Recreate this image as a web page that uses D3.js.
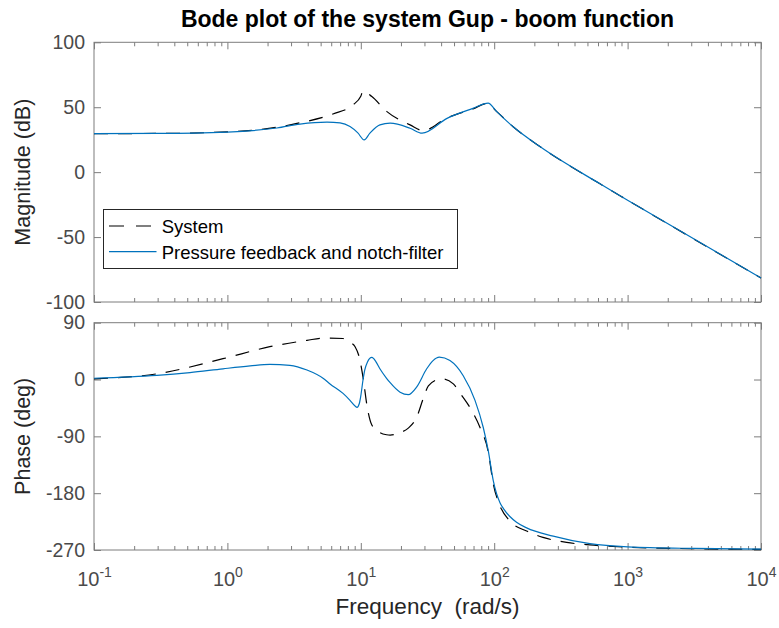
<!DOCTYPE html>
<html>
<head>
<meta charset="utf-8">
<script src="https://cdn.jsdelivr.net/npm/d3@7"></script>
<style>
  html, body { margin: 0; padding: 0; background: #fff; }
  svg { display: block; font-family: "Liberation Sans", Arial, Helvetica, sans-serif; }
</style>
</head>
<body>
<svg id="chart" width="779" height="628"></svg>
<script>
// Frequency response samples: [frequency (rad/s), value]
const systemMagnitude = [
  [0.1, 29.7], [0.3, 29.8], [1.0, 31.0], [2.35, 34.6], [3.5, 38.0], [6.19, 44.8],
  [8.75, 51.8], [10.0, 58.5], [10.4, 62.6], [12.1, 58.2], [15.7, 46.6], [23.4, 36.4],
  [29.3, 32.0], [44.3, 41.8], [69.3, 48.7], [88.3, 52.9], [104.5, 46.6], [138, 35.1],
  [220, 19.7], [621, -9.0], [1000, -21.6], [10000, -81.5]
];
const feedbackMagnitude = [
  [0.1, 29.7], [0.3, 29.8], [1.0, 30.9], [2.35, 34.0], [3.5, 37.0], [5.58, 38.5],
  [6.99, 37.9], [8.30, 35.1], [9.5, 30.2], [10.6, 24.8], [11.7, 30.0], [13.9, 36.4],
  [16.6, 37.7], [23.4, 33.8], [28.8, 30.0], [44.3, 41.4], [69.3, 49.1], [90.0, 53.2],
  [104.5, 46.6], [138, 35.1], [220, 19.7], [621, -9.0], [1000, -21.6], [10000, -81.5]
];
const systemPhase = [
  [0.1, 1], [0.296, 9], [0.927, 33], [2.08, 52], [3.95, 62], [5.21, 65.5], [7.36, 65],
  [8.30, 59], [9.06, 52], [9.75, 35], [10.4, 3], [11.2, -45], [12.1, -72], [13.9, -84],
  [15.6, -87.5], [16.6, -88], [19.7, -84], [22.7, -77], [26.2, -60], [29.4, -30],
  [32.1, -10], [38.8, 0.5], [41.3, 1], [49.4, -7], [57.0, -25], [67.8, -49], [78.3, -76],
  [90.3, -115], [98.4, -165], [110.5, -200], [131, -224], [175, -240], [232, -250],
  [349, -258], [522, -262], [1000, -265.5], [3162, -268], [10000, -269]
];
const feedbackPhase = [
  [0.1, 2], [0.296, 6.5], [0.524, 11], [0.927, 17], [1.48, 21.5], [2.08, 24], [2.94, 22.5],
  [3.95, 15], [5.21, 2], [5.88, -7], [7.36, -22], [8.30, -33], [9.06, -42], [9.37, -44],
  [9.75, -38], [10.0, -26], [10.4, 0], [10.7, 15], [11.2, 27.5], [12.1, 35], [13.0, 28],
  [13.9, 17], [15.6, 2], [16.6, -5], [19.7, -20], [22.7, -24], [26.2, -12], [31.2, 17],
  [34.8, 30], [38.8, 35.5], [46.6, 30], [58.6, 6], [71.8, -33], [82.8, -76], [90.3, -113],
  [98.4, -160], [110.5, -195], [117, -204], [131, -217], [147, -226], [175, -235],
  [277, -248], [522, -260], [1000, -265], [3162, -267.5], [10000, -268.5]
];

const freqTicks = [0.1, 1, 10, 100, 1000, 10000];
const magTicks = [-100, -50, 0, 50, 100];
const phaseTicks = [-270, -180, -90, 0, 90];
const seriesNames = ["System", "Pressure feedback and notch-filter"];

const svg = d3.select("#chart");
const axisColor = "#7d7d7d";
const labelColor = "#4a4a4a";
const blue = "#0072BD";

const left = 94, right = 761;
const magTop = 42.3, magBottom = 302;
const phTop = 322.7, phBottom = 550;

const x = d3.scaleLog().domain([0.1, 10000]).range([left, right]);
const yMag = d3.scaleLinear().domain([-100, 100]).range([magBottom, magTop]);
const yPh = d3.scaleLinear().domain([-270, 90]).range([phBottom, phTop]);

// minor log ticks: 2..9 within every decade
const minorTicks = [];
for (let e = -1; e < 4; e++) for (let m = 2; m <= 9; m++) minorTicks.push(m * Math.pow(10, e));

function styleAxis(g) {
  g.select(".domain").remove();
  g.selectAll(".tick line").attr("stroke", axisColor).attr("stroke-width", 1);
  g.selectAll(".tick text").attr("fill", labelColor).attr("font-size", 19.5);
}

function panel(y, top, bottom, yTicks, showXLabels) {
  const g = svg.append("g");
  // frame
  g.append("rect")
    .attr("x", left).attr("y", top)
    .attr("width", right - left).attr("height", bottom - top)
    .attr("fill", "none").attr("stroke", axisColor).attr("stroke-width", 1);

  // x ticks, bottom and top edges (pointing inward)
  const xb = g.append("g").attr("transform", `translate(0,${bottom})`)
    .call(d3.axisBottom(x).tickValues(freqTicks).tickSizeInner(-7).tickSizeOuter(0).tickPadding(15)
      .tickFormat(showXLabels ? (d => d) : () => ""));
  styleAxis(xb);
  if (showXLabels) {
    xb.selectAll(".tick text").each(function(d) {
      const t = d3.select(this);
      t.text(null).attr("dy", "1.05em").attr("font-size", 20);
      t.append("tspan").text("10");
      t.append("tspan").attr("dy", "-0.62em").attr("font-size", 14)
        .text(String(Math.round(Math.log10(d))));
    });
  }
  styleAxis(g.append("g").attr("transform", `translate(0,${bottom})`)
    .call(d3.axisBottom(x).tickValues(minorTicks).tickSizeInner(-4).tickSizeOuter(0).tickFormat(() => "")));
  styleAxis(g.append("g").attr("transform", `translate(0,${top})`)
    .call(d3.axisTop(x).tickValues(freqTicks).tickSizeInner(-7).tickSizeOuter(0).tickFormat(() => "")));
  styleAxis(g.append("g").attr("transform", `translate(0,${top})`)
    .call(d3.axisTop(x).tickValues(minorTicks).tickSizeInner(-4).tickSizeOuter(0).tickFormat(() => "")));

  // y ticks, left with labels, right without
  styleAxis(g.append("g").attr("transform", `translate(${left},0)`)
    .call(d3.axisLeft(y).tickValues(yTicks).tickSizeInner(-7).tickSizeOuter(0).tickPadding(9)
      .tickFormat(d => String(d))));
  styleAxis(g.append("g").attr("transform", `translate(${right},0)`)
    .call(d3.axisRight(y).tickValues(yTicks).tickSizeInner(-7).tickSizeOuter(0).tickFormat(() => "")));
  return g;
}

function drawLine(g, data, y, color, dash) {
  const line = d3.line().x(d => x(d[0])).y(d => y(d[1])).curve(d3.curveMonotoneX);
  g.append("path").datum(data)
    .attr("d", line)
    .attr("fill", "none")
    .attr("stroke", color)
    .attr("stroke-width", 1.2)
    .attr("stroke-linejoin", "round")
    .attr("stroke-dasharray", dash || null);
}

const magPanel = panel(yMag, magTop, magBottom, magTicks, false);
drawLine(magPanel, systemMagnitude, yMag, "#000", "14,10");
drawLine(magPanel, feedbackMagnitude, yMag, blue, null);

const phPanel = panel(yPh, phTop, phBottom, phaseTicks, true);
drawLine(phPanel, systemPhase, yPh, "#000", "14,10");
drawLine(phPanel, feedbackPhase, yPh, blue, null);

// legend
const lg = svg.append("g");
lg.append("rect").attr("x", 103.5).attr("y", 209.5).attr("width", 354).attr("height", 59)
  .attr("fill", "#fff").attr("stroke", "#262626").attr("stroke-width", 1);
lg.append("line").attr("x1", 109).attr("x2", 152).attr("y1", 226).attr("y2", 226)
  .attr("stroke", "#000").attr("stroke-width", 1.2).attr("stroke-dasharray", "15,12");
lg.append("line").attr("x1", 109).attr("x2", 156.5).attr("y1", 251.7).attr("y2", 251.7)
  .attr("stroke", blue).attr("stroke-width", 1.2);
lg.append("text").attr("x", 161.7).attr("y", 233.3).attr("font-size", 18.5).attr("fill", "#000").text(seriesNames[0]);
lg.append("text").attr("x", 161.7).attr("y", 259.3).attr("font-size", 18.5).attr("fill", "#000").text(seriesNames[1]);

// titles and axis labels
svg.append("text").attr("x", (left + right) / 2).attr("y", 27)
  .attr("text-anchor", "middle").attr("font-size", 23).attr("font-weight", "bold").attr("fill", "#000")
  .text("Bode plot of the system Gup - boom function");
svg.append("text").attr("transform", `translate(30,${(magTop + magBottom) / 2}) rotate(-90)`)
  .attr("text-anchor", "middle").attr("font-size", 21.5).attr("fill", "#262626").text("Magnitude (dB)");
svg.append("text").attr("transform", `translate(30,${(phTop + phBottom) / 2}) rotate(-90)`)
  .attr("text-anchor", "middle").attr("font-size", 21.5).attr("fill", "#262626").text("Phase (deg)");
svg.append("text").attr("x", (left + right) / 2).attr("y", 614)
  .attr("text-anchor", "middle").attr("font-size", 22.5).attr("fill", "#262626")
  .attr("xml:space", "preserve").style("white-space", "pre").text("Frequency  (rad/s)");
</script>
</body>
</html>
